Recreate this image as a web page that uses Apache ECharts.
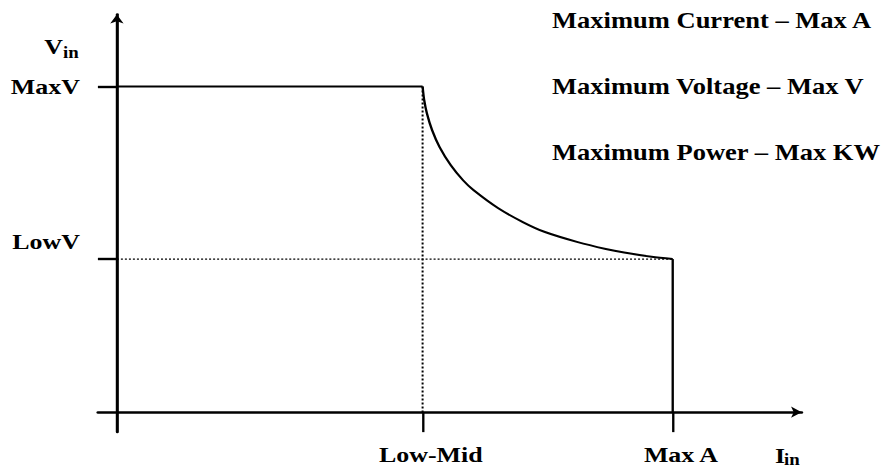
<!DOCTYPE html>
<html><head><meta charset="utf-8">
<script src="https://cdn.jsdelivr.net/npm/echarts@6/dist/echarts.min.js"></script>
<style>
html,body{margin:0;padding:0;background:#fff;overflow:hidden;width:882px;height:471px;}
#chart{width:748px;height:471px;transform:scaleX(1.1791);transform-origin:0 0;}
</style></head><body><div id="chart"></div>
<script>
// Tick values (data units) and their labels
const yTickValues = [47, 100];
const yTickLabels = ['LowV', 'MaxV'];
const xTickValues = [55, 100];
const xTickLabels = ['Low-Mid', 'Max A'];
// Constant-power curve (I, V)
const curveI = [55, 55.29, 55.77, 56.71, 58.06, 60.08, 62.28, 64.14, 68.62, 73.12, 77.02, 82.92, 87.96, 91.26, 96.2, 100];
const curveV = [100, 95.8, 91.8, 86.6, 81.4, 75.8, 71.2, 68.2, 62.6, 58.3, 55.3, 52.2, 50.1, 49.0, 47.7, 47];
const infoLines = ['Maximum Current \u2013 Max A', 'Maximum Voltage \u2013 Max V', 'Maximum Power \u2013 Max KW'];

const FONT = "'Liberation Serif', 'Times New Roman', serif";
const maxV = yTickValues[1], lowV = yTickValues[0];
const lowMid = xTickValues[0], maxA = xTickValues[1];

const chart = echarts.init(document.getElementById('chart'), null, {renderer: 'svg'});
const lbl = (t, x, y, size, align) => ({
  type: 'text', x: x, y: y, silent: true,
  style: {text: t, fontFamily: FONT, fontWeight: 'bold', fontSize: size, fill: '#000',
          align: align || 'left', verticalAlign: 'middle'}
});
chart.setOption({
  animation: false,
  backgroundColor: '#fff',
  grid: {left: 83.1, right: 68.1, top: 14.5, bottom: 39, containLabel: false, outerBoundsMode: 'none'},
  xAxis: {
    type: 'value', min: -3.4, max: 123.2,
    splitLine: {show: false},
    axisLine: {onZero: true, symbol: ['none', 'arrow'], symbolSize: [8.5, 9],
               lineStyle: {color: '#000', width: 2.6}},
    axisTick: {show: true, customValues: xTickValues, length: 20, inside: false,
               lineStyle: {color: '#000', width: 2}},
    axisLabel: {customValues: xTickValues, margin: 12,
                formatter: v => xTickLabels[xTickValues.indexOf(v)],
                fontFamily: FONT, fontWeight: 'bold', fontSize: 22, lineHeight: 22,
                color: '#000', padding: [0, 0, 0, 14]}
  },
  yAxis: {
    type: 'value', min: -6.1, max: 122.1,
    splitLine: {show: false},
    axisLine: {onZero: true, symbol: ['none', 'arrow'], symbolSize: [8.5, 9],
               lineStyle: {color: '#000', width: 2.6}},
    axisTick: {show: true, customValues: yTickValues, length: 16.1, inside: false,
               lineStyle: {color: '#000', width: 2.4}},
    axisLabel: {customValues: yTickValues, margin: 15.3,
                formatter: v => (v === lowV ? yTickLabels[0] + '\n ' : yTickLabels[1]),
                fontFamily: FONT, fontWeight: 'bold', fontSize: 22, lineHeight: 35,
                color: '#000'}
  },
  series: [
    {type: 'line', name: 'maxV', data: [[0, maxV], [lowMid, maxV]], showSymbol: false, silent: true,
     lineStyle: {color: '#000', width: 2}},
    {type: 'line', name: 'power', data: curveI.map((x, i) => [x, curveV[i]]), showSymbol: false,
     silent: true, smooth: 0.3, lineStyle: {color: '#000', width: 2}},
    {type: 'line', name: 'maxA', data: [[maxA, lowV], [maxA, 0]], showSymbol: false, silent: true,
     lineStyle: {color: '#000', width: 2}},
    {type: 'line', name: 'lowVGuide', data: [[0, lowV], [maxA, lowV]], showSymbol: false, silent: true,
     lineStyle: {color: '#000', width: 1.3, type: [1.7, 1.7]}},
    {type: 'line', name: 'lowMidGuide', data: [[lowMid, maxV], [lowMid, 0]], showSymbol: false, silent: true,
     lineStyle: {color: '#000', width: 1.7, type: [2, 2]}}
  ],
  graphic: [
    lbl('V', 53.4, 47, 22, 'right'),
    lbl('in', 53.4, 53, 16, 'left'),
    lbl('I', 657.3, 455.5, 22, 'left'),
    lbl('in', 665, 460, 16, 'left'),
    lbl(infoLines[0], 468.2, 20, 22.5),
    lbl(infoLines[1], 468.2, 86, 22.5),
    lbl(infoLines[2], 468.2, 152, 22.5)
  ]
});
</script></body></html>
